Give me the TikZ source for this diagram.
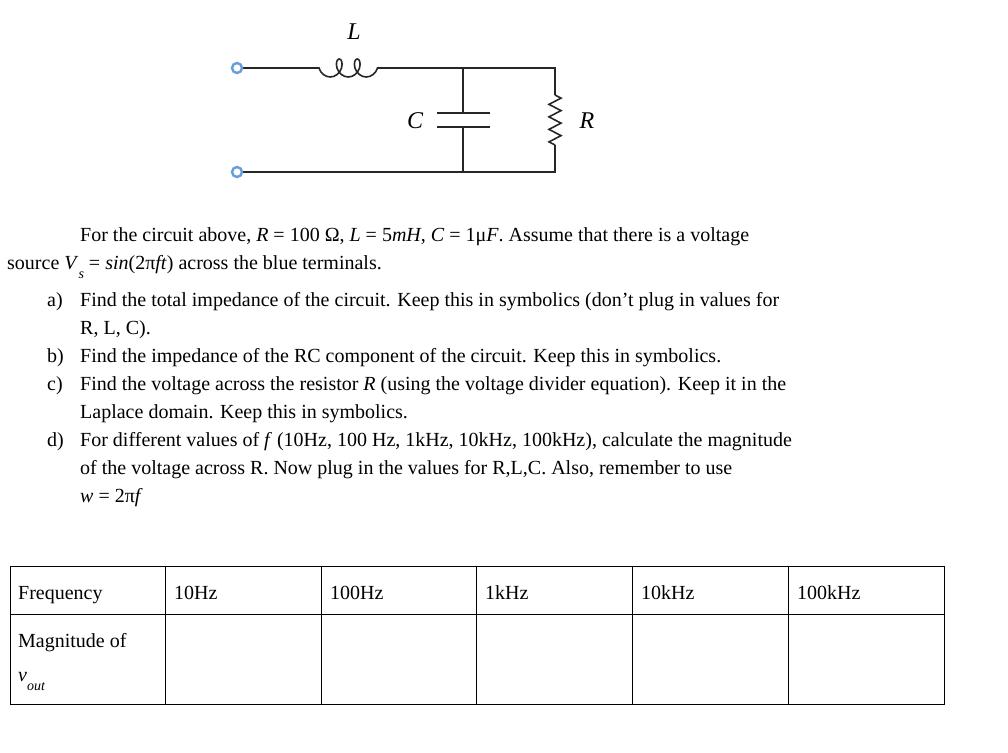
\documentclass[tikz,border=0pt]{standalone}
\usepackage{fontspec}
\setmainfont{Liberation Serif}
\usetikzlibrary{decorations.pathmorphing}
\definecolor{tblue}{RGB}{100,160,215}
\begin{document}
\begin{tikzpicture}[x=1pt,y=-1pt,
  txt/.style={anchor=base west,inner sep=0pt,font=\fontsize{20}{24}\selectfont},
  wire/.style={line width=1.6pt,black!85},
  term/.style={circle,draw=tblue,line width=2.4pt,minimum size=10pt,inner sep=0pt,fill=white},
  grid/.style={line width=1pt}]
\useasboundingbox (0,0) rectangle (1008,752);
% circuit
\coordinate (l1) at (317,68);
\coordinate (l2) at (393,68);
\coordinate (j1) at (463,68);
\coordinate (j2) at (463,172);
\coordinate (r1) at (555,68);
\coordinate (ra) at (555,95);
\coordinate (rb) at (555,145);
\coordinate (r2) at (555,172);
\coordinate (c1) at (463,113);
\coordinate (c2) at (463,127);
\draw[wire] (237,68) -- (l1);
\draw[wire,decorate,decoration={coil,aspect=0.75,segment length=18pt,amplitude=9pt,pre length=2pt,post length=2pt,mirror}] (l1) -- (l2);
\draw[wire] (l2) -- (r1) -- (ra);
\draw[wire,decorate,decoration={zigzag,amplitude=6pt,segment length=12.5pt}] (ra) -- (rb);
\draw[wire] (rb) -- (r2) -- (237,172);
\draw[wire] (j1) -- (c1) (437,113) -- (490,113) (437,127) -- (490,127) (c2) -- (j2);
\node[term] (t1) at (237,68) {};
\node[term] (t2) at (237,172) {};
\node[font=\fontsize{24}{24}\selectfont\itshape] (lC) at (415,121) {C};
\node[font=\fontsize{24}{24}\selectfont\itshape] (lR) at (587,121) {R};
\node[font=\fontsize{24}{24}\selectfont\itshape] (lL) at (354,32) {L};
% text
\node[txt] (p1) at (80,241) {For the circuit above, \textit{R} = 100 Ω, \textit{L} = 5\textit{mH}, \textit{C} = 1μ\textit{F}. Assume that there is a voltage};
\node[txt] (p2) at (7,269) {source \textit{V}\raisebox{-9pt}{\fontsize{14}{14}\selectfont\textit{s}} = \textit{sin}(2π\textit{ft}) across the blue terminals.};
\node[txt] (a1) at (47,306) {a)};
\node[txt] (a2) at (80,306) {Find the total impedance of the circuit. Keep this in symbolics (don’t plug in values for};
\node[txt] (a3) at (80,334) {R, L, C).};
\node[txt] (b1) at (47,362) {b)};
\node[txt] (b2) at (80,362) {Find the impedance of the RC component of the circuit. Keep this in symbolics.};
\node[txt] (c1t) at (47,390) {c)};
\node[txt] (c2t) at (80,390) {Find the voltage across the resistor \textit{R} (using the voltage divider equation). Keep it in the};
\node[txt] (c3t) at (80,418) {Laplace domain. Keep this in symbolics.};
\node[txt] (d1) at (47,446) {d)};
\node[txt] (d2) at (80,446) {For different values of \textit{f} (10Hz, 100 Hz, 1kHz, 10kHz, 100kHz), calculate the magnitude};
\node[txt] (d3) at (80,474) {of the voltage across R. Now plug in the values for R,L,C. Also, remember to use};
\node[txt] (d4) at (80,502) {\textit{w} = 2π\textit{f}};
% table
\draw[grid] (10,566) rectangle (944,704);
\draw[grid] (10,614) -- (944,614);
\foreach \x in {165,321,476,632,788} \draw[grid] (\x,566) -- (\x,704);
\node[txt] (h0) at (18,599) {Frequency};
\node[txt] (h1) at (174,599) {10Hz};
\node[txt] (h2) at (330,599) {100Hz};
\node[txt] (h3) at (485,599) {1kHz};
\node[txt] (h4) at (641,599) {10kHz};
\node[txt] (h5) at (797,599) {100kHz};
\node[txt] (m1) at (18,647) {Magnitude of};
\node[txt] (m2) at (18,681) {\textit{v}\raisebox{-9pt}{\fontsize{14}{14}\selectfont\textit{out}}};
\end{tikzpicture}
\end{document}
